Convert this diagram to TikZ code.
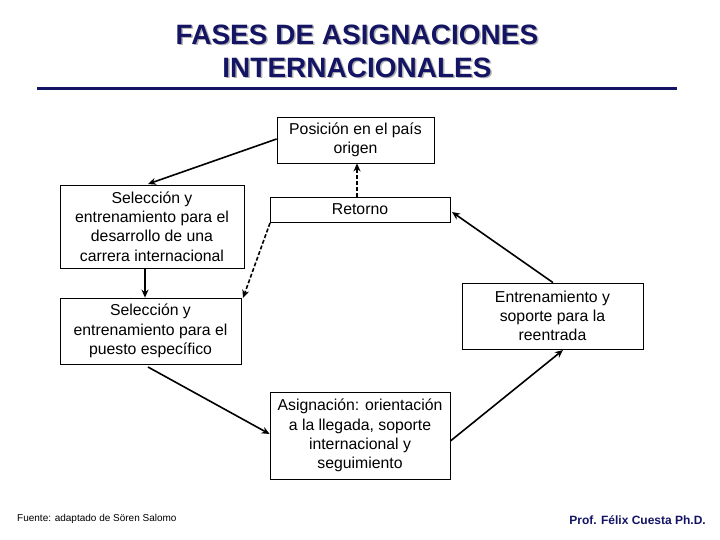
\documentclass[tikz,border=0pt]{standalone}
\usepackage{fontspec}
\setmainfont{Liberation Sans}
\usetikzlibrary{arrows.meta}
\definecolor{navy}{RGB}{20,20,100}
\begin{document}
\begin{tikzpicture}[x=1pt,y=-1pt,
  box/.style={draw=black,line width=0.8pt,fill=white,inner sep=0pt,align=center,font=\fontsize{15.8}{19.3}\selectfont},
  conn/.style={line width=1.6pt,-{Stealth[length=8pt,width=7pt]}},
  dconn/.style={conn,dash pattern=on 4pt off 2pt}]
\useasboundingbox (0,0) rectangle (720,540);
\fill[white] (0,0) rectangle (720,540);
% title
\node[text=gray!60,font=\fontsize{28}{33}\selectfont\bfseries,align=center] at (358.5,52.5) {FASES DE ASIGNACIONES\\INTERNACIONALES};
\node[text=navy,font=\fontsize{28}{33}\selectfont\bfseries,align=center] (title) at (357,51) {FASES DE ASIGNACIONES\\INTERNACIONALES};
\draw[navy,line width=3pt] (37,89) -- (677,89);
% boxes
\node[box,minimum width=157pt,minimum height=46pt] (pos) at (355.5,140) {Posición en el país\\origen};
\node[box,minimum width=184pt,minimum height=83pt] (selc) at (152,226.5) {Selección y\\entrenamiento para el\\desarrollo de una\\carrera internacional};
\node[box,minimum width=180pt,minimum height=25pt] (ret) at (360,209.5) {Retorno};
\node[box,minimum width=181pt,minimum height=66pt] (selp) at (150.5,331) {Selección y\\entrenamiento para el\\puesto específico};
\node[box,minimum width=181pt,minimum height=66pt] (ent) at (552.5,316) {Entrenamiento y\\soporte para la\\reentrada};
\node[box,minimum width=180pt,minimum height=87pt] (asig) at (360,435.5) {Asignación: orientación\\a la llegada, soporte\\internacional y\\seguimiento};
% connectors
\draw[conn] (pos.west |- 0,139) -- (148,184);
\draw[conn] (selc.south -| 145,0) -- (selp.north -| 145,0);
\draw[dconn] (270,223) -- (243,298);
\draw[dconn] (ret.north -| 357,0) -- (pos.south -| 357,0);
\draw[conn] (ent.north -| 553,0) -- (452,212);
\draw[conn] (148,367) -- (asig.west |- 0,434);
\draw[conn] (asig.east |- 0,441) -- (563,350);
% footer
\node[anchor=west,inner sep=0pt,font=\fontsize{10}{12}\selectfont] (src) at (17,519) {Fuente: adaptado de Sören Salomo};
\node[anchor=east,inner sep=0pt,text=navy,font=\fontsize{12}{14}\selectfont\bfseries] (auth) at (706,520) {Prof. Félix Cuesta Ph.D.};
\end{tikzpicture}
\end{document}
